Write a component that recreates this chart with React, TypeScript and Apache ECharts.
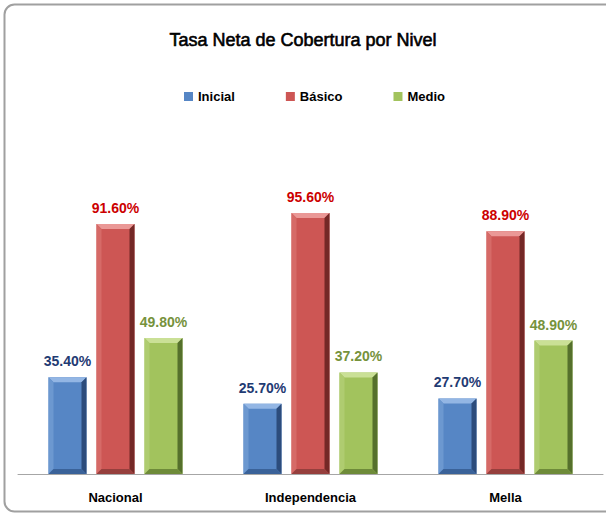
import React, { useEffect, useRef } from "react";
import * as echarts from "echarts";

const categories = ["Nacional", "Independencia", "Mella"];
const seriesNames = ["Inicial", "Básico", "Medio"];
const inicialValues = [35.4, 25.7, 27.7];
const basicoValues = [91.6, 95.6, 88.9];
const medioValues = [49.8, 37.2, 48.9];

const palettes = [
  { main: "#5686C5", top: "#93B6E4", left: "#6C98D0", right: "#2C4C7C", bottom: "#3A6299", label: "#1F3B73" },
  { main: "#CD5654", top: "#EA9896", left: "#D66A67", right: "#742826", bottom: "#963F3D", label: "#CC0000" },
  { main: "#A2C35D", top: "#CAE096", left: "#AFCC70", right: "#55702C", bottom: "#6E8B39", label: "#76923C" },
];

const BAR_W = 38;
const STEP = 48;
const BEVEL = 5;

export default function App() {
  const ref = useRef<HTMLDivElement>(null);
  useEffect(() => {
    if (!ref.current) return;
    const chart = echarts.init(ref.current, undefined, { renderer: "svg" });
    const valuesList = [inicialValues, basicoValues, medioValues];
    const series = valuesList.map((vals, s) => {
      const p = palettes[s];
      return {
        type: "custom",
        name: seriesNames[s],
        itemStyle: { color: p.main },
        encode: { x: 0, y: 1 },
        data: vals.map((v, i) => [i, v]),
        renderItem: (params: any, api: any) => {
          const ci = api.value(0);
          const v = api.value(1);
          const base = api.coord([ci, 0]);
          const topPt = api.coord([ci, v]);
          const cx = base[0] + (s - 1) * STEP;
          const x0 = cx - BAR_W / 2;
          const x1 = cx + BAR_W / 2;
          const y0 = topPt[1];
          const y1 = base[1];
          const b = BEVEL;
          return {
            type: "group",
            children: [
              { type: "rect", shape: { x: x0, y: y0, width: BAR_W, height: y1 - y0 }, style: { fill: p.main } },
              { type: "polygon", shape: { points: [[x0, y0], [x1, y0], [x1 - b, y0 + b], [x0 + b, y0 + b]] }, style: { fill: p.top } },
              { type: "polygon", shape: { points: [[x0, y0], [x0 + b, y0 + b], [x0 + b, y1 - b], [x0, y1]] }, style: { fill: p.left } },
              { type: "polygon", shape: { points: [[x1, y0], [x1, y1], [x1 - b, y1 - b], [x1 - b, y0 + b]] }, style: { fill: p.right } },
              { type: "polygon", shape: { points: [[x0, y1], [x0 + b, y1 - b], [x1 - b, y1 - b], [x1, y1]] }, style: { fill: p.bottom } },
              {
                type: "text",
                style: {
                  text: v.toFixed(2) + "%",
                  x: cx,
                  y: y0 - 16,
                  align: "center",
                  verticalAlign: "middle",
                  fill: p.label,
                  font: "bold 14px 'Liberation Sans', Arial, sans-serif",
                },
              },
            ],
          };
        },
      };
    });
    chart.setOption({
      animation: false,
      backgroundColor: "#ffffff",
      title: {
        text: "Tasa Neta de Cobertura por Nivel",
        left: "center",
        top: 26,
        textStyle: {
          fontFamily: "'Liberation Sans', Arial, sans-serif",
          fontSize: 18,
          fontWeight: "normal",
          color: "#000000",
          textBorderColor: "#000000",
          textBorderWidth: 0.6,
        },
      },
      legend: {
        left: 179,
        top: 85,
        icon: "rect",
        itemWidth: 9,
        itemHeight: 9,
        itemGap: 51,
        data: seriesNames,
        textStyle: {
          fontFamily: "'Liberation Sans', Arial, sans-serif",
          fontSize: 13,
          fontWeight: "bold",
          color: "#000000",
        },
      },
      grid: { left: 18, right: 3, top: 201, bottom: 40 },
      xAxis: {
        type: "category",
        data: categories,
        axisLine: { lineStyle: { color: "#A6A6A6", width: 1 } },
        axisTick: { show: false },
        axisLabel: {
          margin: 17,
          fontFamily: "'Liberation Sans', Arial, sans-serif",
          fontSize: 13,
          fontWeight: "bold",
          color: "#000000",
        },
      },
      yAxis: { type: "value", min: 0, max: 100, show: false, splitLine: { show: false } },
      graphic: [
        {
          type: "rect",
          shape: { x: 4.5, y: 4.5, width: 640, height: 507, r: 10 },
          style: { fill: "none", stroke: "#A0A0A0", lineWidth: 2 },
          silent: true,
        },
      ],
      series,
    });
    return () => chart.dispose();
  }, []);
  return <div ref={ref} style={{ position: "fixed", left: 0, top: 0, width: 606, height: 514 }} />;
}
